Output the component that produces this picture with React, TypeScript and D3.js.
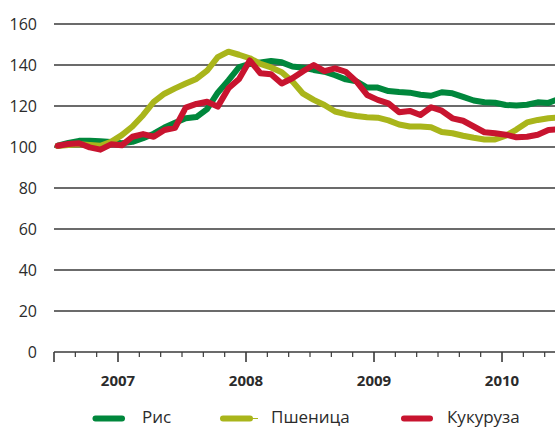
import React from "react";
import * as d3 from "d3";

const years = ["2007", "2008", "2009", "2010"];
const yTicks = [0, 20, 40, 60, 80, 100, 120, 140, 160];

// monthly values, Jan 2007 .. Dec 2010
const rice = [
  100.6, 102, 103, 103, 102.8, 102.5, 101.8, 102.5, 104.3, 106.5, 109.5, 111.8,
  114, 114.6, 118.5, 126.5, 132.5, 139, 140.5, 141.2, 142, 141.3, 139.3, 138.7,
  137.6, 136.7, 135, 133, 132, 129, 129, 127.3, 126.8, 126.5, 125.5, 125,
  126.7, 126.2, 124.5, 122.7, 121.8, 121.6, 120.5, 120.3, 120.6, 121.8, 121.5, 123.5,
];
const wheat = [
  100.5, 101, 101.3, 101, 100.6, 102.5, 105.8, 110, 115.5, 122, 126, 128.6,
  131, 133.2, 137.2, 143.8, 146.5, 145, 143.3, 140.5, 138.8, 136.5, 132, 126,
  123, 120.5, 117.3, 116, 115.1, 114.5, 114.3, 113, 111, 110, 110, 109.6,
  107.3, 106.7, 105.5, 104.5, 103.7, 103.7, 105.5, 108.5, 112, 113.2, 114, 114.5,
];
const maize = [
  100.6, 101.5, 101.8, 99.8, 98.7, 101.3, 100.8, 105, 106.3, 105, 108.3, 109.4,
  119.2, 121, 122.1, 119.7, 128.6, 133.2, 142.2, 136, 135.5, 131, 133.5, 137,
  140, 137, 138.4, 136.7, 132, 125.4, 123, 121.3, 117, 117.6, 115.6, 119.4,
  117.7, 114, 112.8, 110, 107.2, 106.7, 106, 104.7, 105, 106, 108.3, 108.6,
];

const seriesNames = ["Рис", "Пшеница", "Кукуруза"];
const colors = ["#00873C", "#A9B51B", "#C8142F"];

const W = 555;
const H = 428;

export default function App() {
  const monthPx = 10.667;
  const x = d3.scaleLinear().domain([0, 47]).range([54, 54 + 47 * monthPx]);
  const y = d3.scaleLinear().domain([0, 160]).range([352, 24]);
  const line = d3
    .line<number>()
    .x((_, i) => x(i + 0.35))
    .y((d) => y(d))
    .curve(d3.curveLinear);

  const all = [rice, wheat, maize];
  const tickMonths = d3.range(0, 47, 2);
  const textColor = "#2b2b2b";
  const font = "'Open Sans', 'Noto Sans', sans-serif";

  const legendItems = [
    { x1: 95.5, x2: 122, tx: 142 },
    { x1: 223, x2: 250, tx: 271 },
    { x1: 404, x2: 430, tx: 447 },
  ];
  const legendY = 418.5;
  const legendBase = 423;

  return (
    <svg
      width={W}
      height={H}
      style={{ position: "absolute", left: 0, top: 0, background: "#fff" }}
      fontFamily={font}
    >
      {yTicks.map((t) => (
        <g key={t}>
          {t > 0 && (
            <line x1={54} x2={W} y1={y(t)} y2={y(t)} stroke="#3a3a3a" strokeWidth={1.4} />
          )}
          <text
            x={37}
            y={y(t)}
            dy="0.36em"
            textAnchor="end"
            fontSize={16}
            fill={textColor}
          >
            {t}
          </text>
        </g>
      ))}
      {/* x axis */}
      <line x1={54} x2={W} y1={y(0)} y2={y(0)} stroke="#3a3a3a" strokeWidth={1.6} />
      {tickMonths.map((m) => {
        const major = m % 12 === 6 || m === 0;
        return (
          <line
            key={m}
            x1={x(m)}
            x2={x(m)}
            y1={y(0)}
            y2={y(0) + (major ? 10 : 5)}
            stroke="#3a3a3a"
            strokeWidth={major ? 1.6 : 1.2}
          />
        );
      })}
      {years.map((yr, i) => (
        <text
          key={yr}
          x={x(6 + 12 * i)}
          y={386}
          textAnchor="middle"
          fontSize={15}
          fontWeight="bold"
          fill={textColor}
        >
          {yr}
        </text>
      ))}
      {all.map((s, i) => (
        <path
          key={i}
          d={line(s) || ""}
          fill="none"
          stroke={colors[i]}
          strokeWidth={6}
          strokeLinejoin="round"
          strokeLinecap="round"
        />
      ))}
      {legendItems.map((it, i) => (
        <g key={i}>
          {i === 1 && (
            <line x1={it.x1} x2={it.x2 + 8} y1={legendY} y2={legendY} stroke={colors[i]} strokeWidth={1} />
          )}
          <line
            x1={it.x1}
            x2={it.x2}
            y1={legendY}
            y2={legendY}
            stroke={colors[i]}
            strokeWidth={6}
            strokeLinecap="round"
          />
          <text x={it.tx} y={legendBase} fontSize={17} fill={textColor}>
            {seriesNames[i]}
          </text>
        </g>
      ))}
    </svg>
  );
}
